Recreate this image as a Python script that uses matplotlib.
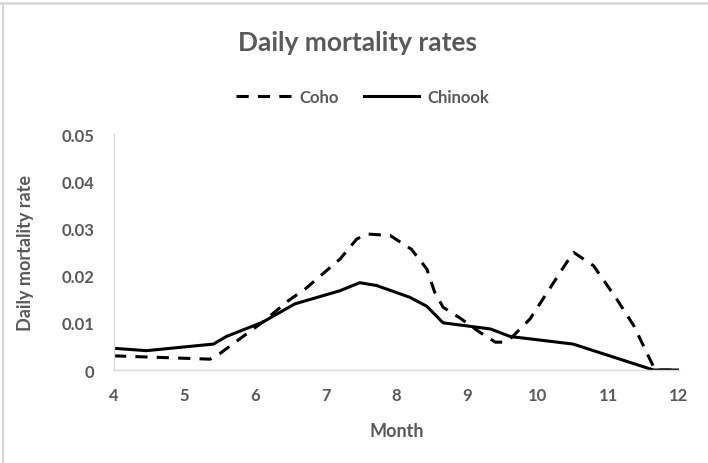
import matplotlib
matplotlib.use("Agg")
import matplotlib.pyplot as plt
from matplotlib.lines import Line2D
from matplotlib.ticker import FuncFormatter

# 数据
coho_month = [4, 5.36, 5.5, 6.1, 6.47, 6.71, 7.2, 7.44, 7.6, 7.91, 8.21, 8.43, 8.54,
              8.66, 8.9, 9.18, 9.4, 9.5, 9.61, 9.89, 10.41, 10.51, 10.79, 11.12,
              11.36, 11.61, 11.66, 12]
coho_rate = [0.0030, 0.0023, 0.0035, 0.0101, 0.0147, 0.0172, 0.0235, 0.0278, 0.0288,
             0.0285, 0.0256, 0.0214, 0.0165, 0.0133, 0.0110, 0.0080, 0.0059, 0.0059,
             0.0066, 0.0108, 0.0228, 0.0249, 0.0221, 0.0150, 0.0094, 0.0016, 0, 0]

chinook_month = [4, 4.46, 5.41, 5.59, 6.1, 6.56, 7.2, 7.48, 7.72, 8.19, 8.43, 8.66,
                 9.33, 9.61, 10.5, 11.64, 12]
chinook_rate = [0.0046, 0.0041, 0.0055, 0.0071, 0.0101, 0.0140, 0.0168, 0.0185, 0.0179,
                0.0154, 0.0135, 0.0100, 0.0087, 0.0071, 0.0055, 0, 0]

x_ticks = [4, 5, 6, 7, 8, 9, 10, 11, 12]
y_ticks = [0, 0.01, 0.02, 0.03, 0.04, 0.05]

text_color = "#595959"
plt.rcParams['font.family'] = ['Lato', 'DejaVu Sans']
plt.rcParams['font.weight'] = 'bold'

fig = plt.figure(figsize=(7.08, 4.64), dpi=100)
ax = fig.add_axes([0.161, 0.2004, 0.798, 0.5086])

# 截图边框（只有左边和上边）
fig.add_artist(Line2D([0.004, 0.004], [0, 0.992], transform=fig.transFigure,
                      color="#d6d6d6", lw=1.5))
fig.add_artist(Line2D([0, 1], [0.992, 0.992], transform=fig.transFigure,
                      color="#d6d6d6", lw=1.8))

ax.plot(coho_month, coho_rate, color="black", lw=2.2, ls=(0, (4, 3)),
        dash_capstyle="butt", label="Coho")
ax.plot(chinook_month, chinook_rate, color="black", lw=2.2, label="Chinook")

ax.set_xlim(4, 12)
ax.set_ylim(0, 0.05)
ax.set_xticks(x_ticks)
ax.set_yticks(y_ticks)
ax.yaxis.set_major_formatter(FuncFormatter(lambda v, p: "0" if v == 0 else f"{v:.2f}"))
ax.tick_params(length=0, labelsize=12, colors=text_color)
ax.tick_params(axis="x", pad=12)
ax.tick_params(axis="y", pad=14)
for lab in ax.get_xticklabels() + ax.get_yticklabels():
    lab.set_fontweight("bold")

for s in ["top", "right"]:
    ax.spines[s].set_visible(False)
for s in ["left", "bottom"]:
    ax.spines[s].set_color("#d9d9d9")
    ax.spines[s].set_linewidth(1)

ax.set_xlabel("Month", fontsize=13, color=text_color, fontweight="bold", labelpad=14)
ax.set_ylabel("Daily mortality rate", fontsize=13, color=text_color, fontweight="bold",
              labelpad=20)

fig.text(0.505, 0.908, "Daily mortality rates", ha="center", va="center",
         fontsize=19, color=text_color, fontweight="bold")

leg = ax.legend(loc="center", bbox_to_anchor=(0.44, 1.157), ncol=2, frameon=False,
                fontsize=12, handlelength=3.3, columnspacing=1.5, handletextpad=0.5)
for t in leg.get_texts():
    t.set_color(text_color)
    t.set_fontweight("bold")

fig.savefig("out.png", dpi=100)
